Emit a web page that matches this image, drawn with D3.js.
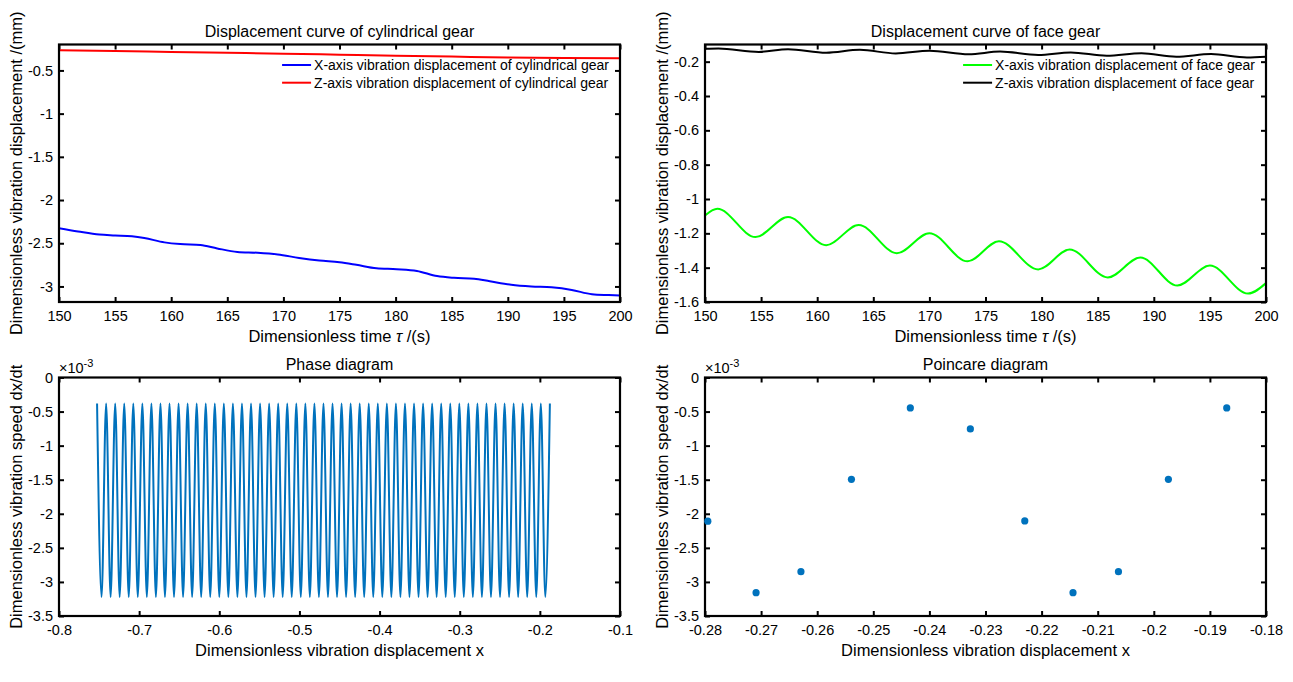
<!DOCTYPE html>
<html>
<head>
<meta charset="utf-8">
<title>Gear vibration response</title>
<script src="https://d3js.org/d3.v7.min.js"></script>
<style>
  body { margin: 0; background: #fff; }
  svg text { font-family: "Liberation Sans", Arial, Helvetica, sans-serif; fill: #000; }
  .axis text { font-size: 14.5px; }
  .axis .tick line { stroke: #000; stroke-width: 2px; }
  .title { font-size: 16px; }
  .label { font-size: 16.5px; }
  .legend text { font-size: 14px; }
</style>
</head>
<body>
<svg width="1293" height="682"></svg>
<script>
// ---------- data ----------
var timeTicks = [150, 155, 160, 165, 170, 175, 180, 185, 190, 195, 200];
var cylTicksY = [-3, -2.5, -2, -1.5, -1, -0.5];
var faceTicksY = [-1.6, -1.4, -1.2, -1, -0.8, -0.6, -0.4, -0.2];
var speedTicks = [-3.5, -3, -2.5, -2, -1.5, -1, -0.5, 0];          // x 10^-3
var phaseTicksX = [-0.8, -0.7, -0.6, -0.5, -0.4, -0.3, -0.2, -0.1];
var poincTicksX = [-0.28, -0.27, -0.26, -0.25, -0.24, -0.23, -0.22, -0.21, -0.2, -0.19, -0.18];

// cylindrical gear, X direction (blue)
var cylXTime = [150, 151.7, 153.6, 155, 156.5, 157.6, 159.4, 160.8, 162.6, 164.1, 165.9, 167.7, 169.5,
                171.4, 173.2, 175, 176.5, 178.3, 180.1, 181.9, 183.7, 185.2, 187, 188.4, 190.3, 192.1,
                193.9, 195.7, 197.5, 199, 200];
var cylXDisp = [-2.325, -2.363, -2.40, -2.41, -2.42, -2.44, -2.49, -2.51, -2.52, -2.56, -2.60, -2.61, -2.63,
                -2.67, -2.70, -2.72, -2.75, -2.79, -2.80, -2.82, -2.88, -2.90, -2.91, -2.94, -2.98, -3.00,
                -3.01, -3.04, -3.09, -3.10, -3.105];
// cylindrical gear, Z direction (red)
var cylZTime = [150, 155, 160, 165, 170, 175, 180, 185, 190, 195, 200];
var cylZDisp = [-0.267, -0.275, -0.286, -0.296, -0.306, -0.318, -0.330, -0.340, -0.350, -0.356, -0.360];

// face gear, X direction (green) - turning points
var faceXTime = [150, 151.1, 154.5, 157.4, 160.8, 163.7, 167.1, 170.0, 173.4, 176.2, 179.7, 182.5,
                 185.9, 188.8, 192.1, 195.0, 198.4, 200];
var faceXDisp = [-1.096, -1.057, -1.222, -1.105, -1.269, -1.152, -1.316, -1.199, -1.363, -1.246, -1.410,
                 -1.294, -1.457, -1.341, -1.504, -1.388, -1.551, -1.49];
// face gear, Z direction (black)
var faceZTime = [150, 151.2, 154.8, 157.4, 160.8, 163.8, 167.0, 170.0, 173.5, 176.3, 179.7, 182.6,
                 185.8, 188.9, 192.0, 195.1, 198.3, 200];
var faceZDisp = [-0.125, -0.123, -0.143, -0.127, -0.148, -0.131, -0.152, -0.136, -0.157, -0.141, -0.161,
                 -0.146, -0.166, -0.151, -0.171, -0.156, -0.176, -0.172];

// phase diagram: x positions of the upper cusps and lower turns, speed in 10^-3
var phaseTopX = [-0.7525, -0.7412, -0.7299, -0.7186, -0.7073, -0.6960, -0.6847, -0.6734, -0.6621, -0.6508,
                 -0.6395, -0.6282, -0.6169, -0.6056, -0.5943, -0.5830, -0.5717, -0.5604, -0.5491, -0.5378,
                 -0.5265, -0.5152, -0.5039, -0.4926, -0.4813, -0.4700, -0.4587, -0.4474, -0.4361, -0.4248,
                 -0.4135, -0.4022, -0.3909, -0.3796, -0.3683, -0.3570, -0.3457, -0.3344, -0.3231, -0.3118,
                 -0.3005, -0.2892, -0.2779, -0.2666, -0.2553, -0.2440, -0.2327, -0.2214, -0.2101, -0.1988,
                 -0.1875];
var phaseBottomX = [-0.7469, -0.7356, -0.7243, -0.7130, -0.7017, -0.6904, -0.6791, -0.6678, -0.6565, -0.6452,
                    -0.6339, -0.6226, -0.6113, -0.6000, -0.5887, -0.5774, -0.5661, -0.5548, -0.5435, -0.5322,
                    -0.5209, -0.5096, -0.4983, -0.4870, -0.4757, -0.4644, -0.4531, -0.4418, -0.4305, -0.4192,
                    -0.4079, -0.3966, -0.3853, -0.3740, -0.3627, -0.3514, -0.3401, -0.3288, -0.3175, -0.3062,
                    -0.2949, -0.2836, -0.2723, -0.2610, -0.2497, -0.2384, -0.2271, -0.2158, -0.2045, -0.1932];
var phaseTopV = -0.38;
var phaseBottomV = -3.22;

// poincare section
var poincX = [-0.2795, -0.2709, -0.2629, -0.2539, -0.2434, -0.2327, -0.2230, -0.2144, -0.2063, -0.1974, -0.1870];
var poincV = [-2.109, -3.157, -2.850, -1.495, -0.447, -0.754, -2.105, -3.157, -2.850, -1.495, -0.447];

// ---------- drawing ----------
var svg = d3.select("svg");
var fmt = function(d) { return String(d); };

function zip(a, b) { return a.map(function(v, i) { return [v, b[i]]; }); }

function panel(p) {
  var x = d3.scaleLinear().domain(p.xDomain).range([p.left, p.right]);
  var y = d3.scaleLinear().domain(p.yDomain).range([p.bottom, p.top]);
  var g = svg.append("g");

  g.append("g").attr("class", "axis").attr("transform", "translate(0," + p.bottom + ")")
    .call(d3.axisBottom(x).tickValues(p.xTicks).tickFormat(fmt).tickSizeInner(-5).tickSizeOuter(0).tickPadding(9));
  g.append("g").attr("class", "axis").attr("transform", "translate(0," + p.top + ")")
    .call(d3.axisTop(x).tickValues(p.xTicks).tickFormat("").tickSizeInner(-5).tickSizeOuter(0));
  g.append("g").attr("class", "axis").attr("transform", "translate(" + p.left + ",0)")
    .call(d3.axisLeft(y).tickValues(p.yTicks).tickFormat(fmt).tickSizeInner(-5).tickSizeOuter(0).tickPadding(6));
  g.append("g").attr("class", "axis").attr("transform", "translate(" + p.right + ",0)")
    .call(d3.axisRight(y).tickValues(p.yTicks).tickFormat("").tickSizeInner(-5).tickSizeOuter(0));
  g.selectAll(".domain").remove();

  var clipId = "clip" + p.id;
  g.append("clipPath").attr("id", clipId).append("rect")
    .attr("x", p.left).attr("y", p.top).attr("width", p.right - p.left).attr("height", p.bottom - p.top);
  var plot = g.append("g").attr("clip-path", "url(#" + clipId + ")");

  g.append("rect")
    .attr("x", p.left).attr("y", p.top)
    .attr("width", p.right - p.left).attr("height", p.bottom - p.top)
    .attr("fill", "none").attr("stroke", "#000").attr("stroke-width", 2.2);

  var cx = (p.left + p.right) / 2;
  g.append("text").attr("class", "title")
    .attr("x", cx).attr("y", p.top - 8).attr("text-anchor", "middle").text(p.title);

  var xl = g.append("text").attr("class", "label")
    .attr("x", cx).attr("y", p.bottom + 40).attr("text-anchor", "middle");
  p.xLabel(xl);

  g.append("text").attr("class", "label")
    .attr("transform", "translate(" + (p.left - 43) + "," + ((p.top + p.bottom) / 2) + ") rotate(-90)")
    .attr("dy", "0.35em").attr("text-anchor", "middle").text(p.yLabel);

  if (p.exponent) {
    var ex = g.append("text").attr("x", p.left).attr("y", p.top - 5).style("font-size", "14.5px");
    ex.append("tspan").text("\u00d710");
    ex.append("tspan").attr("dy", -6).style("font-size", "11px").text("-3");
  }
  return { x: x, y: y, g: g, plot: plot };
}

function timeLabel(t) {
  t.append("tspan").text("Dimensionless time ");
  t.append("tspan").style("font-style", "italic").text("\u03c4");
  t.append("tspan").text(" /(s)");
}
function dispLabel(t) { t.text("Dimensionless vibration displacement x"); }

function legend(pan, right, items) {
  var lg = pan.g.append("g").attr("class", "legend");
  var texts = items.map(function(it, i) {
    return lg.append("text").attr("y", 65 + i * 17.7).attr("dy", "0.35em").text(it.name);
  });
  var w = d3.max(texts, function(t) { return t.node().getComputedTextLength(); });
  var tx = right - 11 - w;
  texts.forEach(function(t, i) {
    t.attr("x", tx);
    lg.append("line")
      .attr("x1", tx - 32).attr("x2", tx - 3)
      .attr("y1", 65 + i * 17.7).attr("y2", 65 + i * 17.7)
      .attr("stroke", items[i].color).attr("stroke-width", 2);
  });
}

function curve(pan, pts, color, w) {
  pan.plot.append("path").datum(pts)
    .attr("fill", "none").attr("stroke", color).attr("stroke-width", w)
    .attr("d", d3.line().x(function(d) { return pan.x(d[0]); })
                       .y(function(d) { return pan.y(d[1]); })
                       .curve(d3.curveMonotoneX));
}

// top left
var p1 = panel({
  id: 1, left: 59, right: 620, top: 44.5, bottom: 302,
  xDomain: [150, 200], yDomain: [-3.18, -0.2], xTicks: timeTicks, yTicks: cylTicksY,
  title: "Displacement curve of cylindrical gear", xLabel: timeLabel,
  yLabel: "Dimensionless vibration displacement /(mm)"
});
curve(p1, zip(cylXTime, cylXDisp), "#0000ff", 2);
curve(p1, zip(cylZTime, cylZDisp), "#ff0000", 2);
legend(p1, 620, [
  { name: "X-axis vibration displacement of cylindrical gear", color: "#0000ff" },
  { name: "Z-axis vibration displacement of cylindrical gear", color: "#ff0000" }
]);

// top right
var p2 = panel({
  id: 2, left: 705, right: 1266, top: 44.5, bottom: 302,
  xDomain: [150, 200], yDomain: [-1.6, -0.1], xTicks: timeTicks, yTicks: faceTicksY,
  title: "Displacement curve of face gear", xLabel: timeLabel,
  yLabel: "Dimensionless vibration displacement /(mm)"
});
curve(p2, zip(faceXTime, faceXDisp), "#00ff00", 2);
curve(p2, zip(faceZTime, faceZDisp), "#000000", 2);
legend(p2, 1266, [
  { name: "X-axis vibration displacement of face gear", color: "#00ff00" },
  { name: "Z-axis vibration displacement of face gear", color: "#000000" }
]);

// bottom left: phase diagram
var p3 = panel({
  id: 3, left: 59, right: 620, top: 377.5, bottom: 616,
  xDomain: [-0.8, -0.1], yDomain: [-3.5, 0], xTicks: phaseTicksX, yTicks: speedTicks,
  title: "Phase diagram", xLabel: dispLabel,
  yLabel: "Dimensionless vibration speed dx/dt", exponent: true
});
var phasePts = [];
phaseTopX.forEach(function(xv, i) {
  phasePts.push([xv, phaseTopV]);
  if (i < phaseBottomX.length) phasePts.push([phaseBottomX[i], phaseBottomV]);
});
curve(p3, phasePts, "#0072bd", 2);

// bottom right: poincare
var p4 = panel({
  id: 4, left: 705, right: 1266, top: 377.5, bottom: 616,
  xDomain: [-0.28, -0.18], yDomain: [-3.5, 0], xTicks: poincTicksX, yTicks: speedTicks,
  title: "Poincare diagram", xLabel: dispLabel,
  yLabel: "Dimensionless vibration speed dx/dt", exponent: true
});
p4.g.selectAll("circle.pt").data(zip(poincX, poincV)).enter().append("circle")
  .attr("class", "pt")
  .attr("cx", function(d) { return p4.x(d[0]); })
  .attr("cy", function(d) { return p4.y(d[1]); })
  .attr("r", 3.6)
  .attr("fill", "#0072bd");
</script>
</body>
</html>
